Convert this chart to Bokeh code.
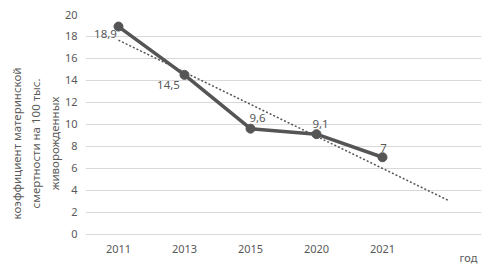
import numpy as np
from bokeh.plotting import figure
from bokeh.models import ColumnDataSource, LabelSet, FactorRange, Range1d
from bokeh.core.properties import value
from bokeh.embed import file_html
from bokeh.resources import INLINE

years = ["2011", "2013", "2015", "2020", "2021"]
values = [18.9, 14.5, 9.6, 9.1, 7.0]
value_labels = ["18,9", "14,5", "9,6", "9,1", "7"]
extra_slot = " "  # empty category where the trend line ends
y_ticks = [0, 2, 4, 6, 8, 10, 12, 14, 16, 18, 20]
x_title = "год"

# label offsets (screen px)
lab_dx = [-13, -16, 7, 4, 1]
lab_dy = [-7, -10, 11, 10, 9]

factors = years + [extra_slot]
FONT = "Noto Sans"
GRAY = "#595959"
LINE = "#555555"

p = figure(width=488, height=272, x_range=FactorRange(*factors, range_padding=0),
           y_range=Range1d(-3.5, 20), output_backend="svg", toolbar_location=None,
           min_border_left=85, min_border_right=7, min_border_top=14, min_border_bottom=0)
p.outline_line_color = None
p.background_fill_color = "white"
p.border_fill_color = "white"

# trend line (linear fit over the five points, extended to sixth slot)
xi = np.arange(1, len(values) + 1)
slope, icpt = np.polyfit(xi, values, 1)
t_start = slope * 1 + icpt
t_end = slope * len(factors) + icpt
p.line(x=[years[0], extra_slot], y=[t_start, t_end], line_color=LINE,
       line_width=1.5, line_dash="2 2")

src = ColumnDataSource(dict(x=years, y=values, t=value_labels, dx=lab_dx, dy=lab_dy))
p.line("x", "y", source=src, line_color=LINE, line_width=3.5)
p.scatter("x", "y", source=src, size=9, fill_color=LINE, line_color=LINE)

labels = LabelSet(x="x", y="y", text="t", source=src, x_offset="dx", y_offset="dy",
                  text_align="center", text_baseline="middle", text_color=GRAY,
                  text_font=value(FONT), text_font_size="11.5px")
p.add_layout(labels)

p.xgrid.grid_line_color = None
p.ygrid.grid_line_color = "#d9d9d9"
p.ygrid.grid_line_width = 1
p.yaxis.ticker = y_ticks
p.ygrid.ticker = y_ticks

for ax in (p.xaxis[0], p.yaxis[0]):
    ax.axis_line_color = None
    ax.major_tick_line_color = None
    ax.minor_tick_line_color = None
    ax.major_tick_out = 0
    ax.major_tick_in = 0
    ax.major_label_text_color = GRAY
    ax.major_label_text_font = FONT
    ax.major_label_text_font_size = "11px"

p.xaxis.fixed_location = 0
p.yaxis.major_label_standoff = 8
p.xaxis.major_label_standoff = 7
p.yaxis.axis_label = "коэффициент материнской\nсмертности на 100 тыс.\nживорожденных"
p.yaxis.axis_label_text_font = FONT
p.yaxis.axis_label_text_font_size = "11.5px"
p.yaxis.axis_label_text_line_height = 1.25
p.yaxis.axis_label_text_font_style = "normal"
p.yaxis.axis_label_text_color = GRAY
p.yaxis.axis_label_standoff = 0

# x-axis title at the right end, just below the axis
p.text(x=[extra_slot], y=[0], text=[x_title], x_offset=20, y_offset=23,
       text_align="center", text_baseline="middle", text_color=GRAY,
       text_font=value(FONT), text_font_size="11px")

open("out.html", "w").write(file_html(p, INLINE))
